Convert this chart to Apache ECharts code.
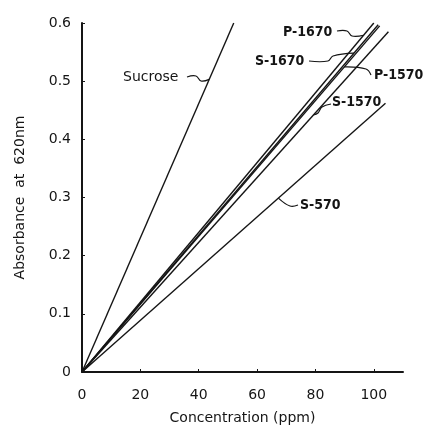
<!DOCTYPE html>
<html>
<head>
    <title>Absorbance at 620nm</title>
    <style>
        body {
            margin: 0;
            background: #fff;
        }

        #chart {
            width: 423px;
            height: 431px;
        }
    </style>
    <script src="https://cdn.jsdelivr.net/npm/echarts@6/dist/echarts.min.js"></script>
</head>
<body>
    <div id="chart"></div>

    <script>
        // each line starts at the origin and ends at (endX, endY)
        var seriesNames = ['Sucrose', 'P-1670', 'S-1670', 'P-1570', 'S-1570', 'S-570'];
        var endX = [52, 100, 101.5, 102, 105, 104];
        var endY = [0.6, 0.6, 0.597, 0.595, 0.585, 0.462];
        // concentration where each label's leader touches its line
        var anchorX = [43.6, 96.5, 93.2, 89.9, 79.3, 67.3];
        var xTicks = [0, 20, 40, 60, 80, 100];

        var ink = '#151515';
        var chart = echarts.init(document.getElementById('chart'));

        var series = seriesNames.map(function (name, i) {
            return {
                name: name,
                type: 'line',
                showSymbol: false,
                silent: true,
                data: [[0, 0], [endX[i], endY[i]]],
                lineStyle: { color: ink, width: 1.4 }
            };
        });

        chart.setOption({
            animation: false,
            backgroundColor: '#fff',
            grid: { left: 82, right: 20, top: 23, bottom: 59, containLabel: false, outerBoundsMode: 'none' },
            xAxis: {
                type: 'value',
                min: 0,
                max: 110,
                interval: 20,
                name: 'Concentration (ppm)',
                nameLocation: 'middle',
                nameGap: 32,
                nameMoveOverlap: false,
                nameTextStyle: { color: ink, fontFamily: 'DejaVu Sans', fontSize: 14 },
                axisLine: { lineStyle: { color: ink, width: 2 } },
                axisTick: { inside: true, length: 3, lineStyle: { color: ink } },
                axisLabel: {
                    color: ink, fontFamily: 'DejaVu Sans', fontSize: 14, margin: 9,
                    showMaxLabel: false,
                    formatter: function (v) { return xTicks.indexOf(v) >= 0 ? String(v) : ''; }
                },
                splitLine: { show: false }
            },
            yAxis: {
                type: 'value',
                min: 0,
                max: 0.6,
                interval: 0.1,
                name: 'Absorbance  at  620nm',
                nameLocation: 'middle',
                nameGap: 48,
                nameTextStyle: { color: ink, fontFamily: 'DejaVu Sans', fontSize: 14 },
                axisLine: { lineStyle: { color: ink, width: 2 } },
                axisTick: { inside: true, length: 3, lineStyle: { color: ink } },
                axisLabel: {
                    color: ink, fontFamily: 'DejaVu Sans', fontSize: 14, margin: 11,
                    formatter: function (v) {
                        var r = Math.round(v * 10) / 10;
                        return r === 0 ? '0' : r.toFixed(1);
                    }
                },
                splitLine: { show: false }
            },
            series: series
        });

        // label boxes and leader bends, in pixels
        var labels = [
            { text: 'Sucrose', x: 123, y: 77, font: 'normal 14px "DejaVu Sans"', bend: [[187, 77], [196, 76], [201, 81]] },
            { text: 'P-1670', x: 283, y: 32, font: 'bold 14px "DejaVu Sans Condensed"', bend: [[337, 31], [347, 31], [352, 36]] },
            { text: 'S-1670', x: 255, y: 61, font: 'bold 14px "DejaVu Sans Condensed"', bend: [[309, 61], [328, 61], [333, 56]] },
            { text: 'P-1570', x: 374, y: 75, font: 'bold 14px "DejaVu Sans Condensed"', bend: [[371, 75], [366, 69]] },
            { text: 'S-1570', x: 332, y: 102, font: 'bold 14px "DejaVu Sans Condensed"', bend: [[331, 104], [322, 107], [318, 113]] },
            { text: 'S-570', x: 300, y: 205, font: 'bold 14px "DejaVu Sans Condensed"', bend: [[298, 205], [290, 206]] }
        ];

        var elements = [];
        labels.forEach(function (lb, i) {
            var ax = anchorX[i];
            var ay = endY[i] * ax / endX[i];
            var p = chart.convertToPixel({ seriesIndex: i }, [ax, ay]);
            var pts = lb.bend.slice();
            pts.push(p);
            elements.push({
                type: 'text',
                silent: true,
                style: {
                    text: lb.text, x: lb.x, y: lb.y, font: lb.font, fill: ink,
                    align: 'left', verticalAlign: 'middle',
                    textAlign: 'left', textVerticalAlign: 'middle'
                }
            });
            elements.push({
                type: 'polyline',
                silent: true,
                shape: { points: pts, smooth: 0.4 },
                style: { stroke: ink, lineWidth: 1.2, fill: null }
            });
        });

        chart.setOption({ graphic: { elements: elements } });
    </script>
</body>
</html>
